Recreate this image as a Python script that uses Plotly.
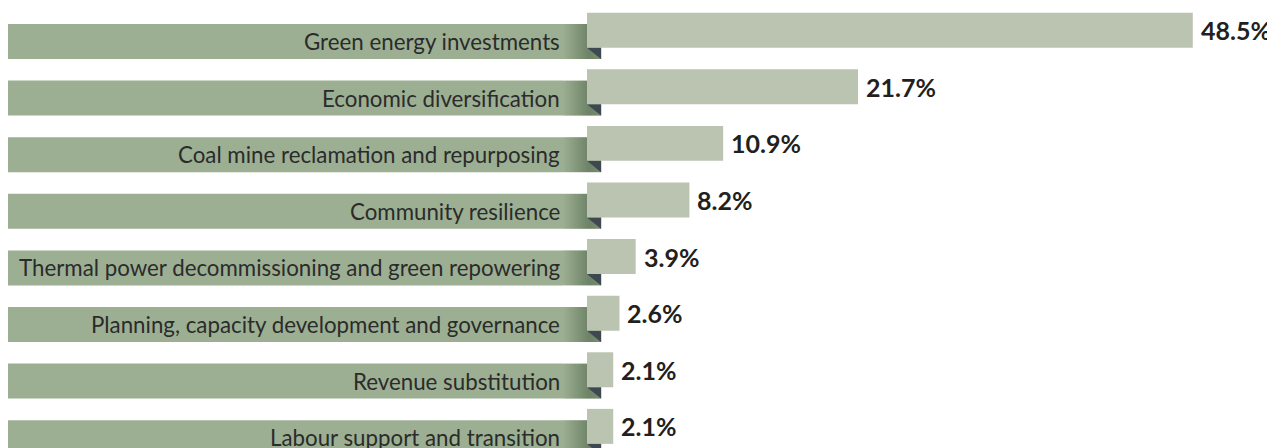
import plotly.graph_objects as go

categories = [
    "Green energy investments",
    "Economic diversification",
    "Coal mine reclamation and repurposing",
    "Community resilience",
    "Thermal power decommissioning and green repowering",
    "Planning, capacity development and governance",
    "Revenue substitution",
    "Labour support and transition",
]
values = [48.5, 21.7, 10.9, 8.2, 3.9, 2.6, 2.1, 2.1]
value_labels = [f"<b>{v:.1f}%</b>" for v in values]

# figure is placed by the page at an 8px body margin
W, H = 1267, 440
BAR_LEFT = 579          # px where bars start
PX_PER_UNIT = 12.49     # px per percentage point
ROW = 56.6              # row pitch in px
FIRST_CENTER = 33.5     # px of first banner centre
LABEL_RIGHT = 554       # px where category labels end

BANNER_COLOR = "#9caf93"
BAR_COLOR = "#bac4b1"
FOLD_COLOR = "#3e4850"

n = len(categories)
ypos = list(range(n))

y_top = -FIRST_CENTER / ROW
y_bot = (H - FIRST_CENTER) / ROW

fig = go.Figure()
fig.add_trace(go.Bar(
    y=ypos, x=values, orientation="h",
    width=0.618, offset=-0.509,
    marker=dict(color=BAR_COLOR, line=dict(width=0)),
    hoverinfo="skip",
))


def hex2rgb(h):
    h = h.lstrip("#")
    return tuple(int(h[k:k + 2], 16) for k in (0, 2, 4))


def grad_color(px):
    stops = [(555, "#9caf93"), (572, "#7d9175"), (581, "#6e8267"), (593, "#7b8e73")]
    for (a, ca), (b, cb) in zip(stops[:-1], stops[1:]):
        if a <= px <= b:
            t = (px - a) / (b - a)
            ra, rb = hex2rgb(ca), hex2rgb(cb)
            c = [round(ra[k] + (rb[k] - ra[k]) * t) for k in range(3)]
            return f"rgb({c[0]},{c[1]},{c[2]})"
    return stops[-1][1]


shapes = []
annotations = []
BANNER_L, GRAD_START, BANNER_R = 0, 555, 593
for i in ypos:
    y0, y1 = i - 0.309, i + 0.309
    shapes.append(dict(type="rect", xref="paper", yref="y",
                       x0=BANNER_L / W, x1=GRAD_START / W, y0=y0, y1=y1,
                       fillcolor=BANNER_COLOR, line=dict(width=0), layer="below"))
    for px in range(GRAD_START, BANNER_R, 2):
        shapes.append(dict(type="rect", xref="paper", yref="y",
                           x0=px / W, x1=(px + 2.3) / W, y0=y0, y1=y1,
                           fillcolor=grad_color(px + 1), line=dict(width=0), layer="below"))
    yb = i + 0.109
    path = (f"M {BAR_LEFT/W},{yb} L {BANNER_R/W},{yb} "
            f"L {BANNER_R/W},{y1} Z")
    shapes.append(dict(type="path", xref="paper", yref="y", path=path,
                       fillcolor=FOLD_COLOR, line=dict(width=0), layer="below"))
    # category label
    annotations.append(dict(xref="paper", yref="y", x=LABEL_RIGHT / W, y=i,
                            text=categories[i], showarrow=False,
                            xanchor="right", yanchor="middle",
                            font=dict(family="Lato", size=22.3, color="#2b2b2b")))
    # value label
    annotations.append(dict(xref="x", yref="y", x=values[i], y=i - 0.2,
                            text=value_labels[i], showarrow=False,
                            xanchor="left", yanchor="middle", xshift=6,
                            font=dict(family="Lato", size=25, color="#231f20")))

fig.update_layout(
    width=W, height=H,
    margin=dict(l=0, r=0, t=0, b=0),
    paper_bgcolor="white", plot_bgcolor="white",
    showlegend=False,
    shapes=shapes,
    annotations=annotations,
    xaxis=dict(domain=[BAR_LEFT / W, 1], range=[0, (W - BAR_LEFT) / PX_PER_UNIT],
               visible=False, fixedrange=True),
    yaxis=dict(domain=[0, 1], range=[y_bot, y_top], visible=False, fixedrange=True),
)

fig.write_html(
    "out.html",
    config={"displayModeBar": False},
    post_script="document.documentElement.style.overflow='hidden';"
                "document.body.style.overflow='hidden';",
)
